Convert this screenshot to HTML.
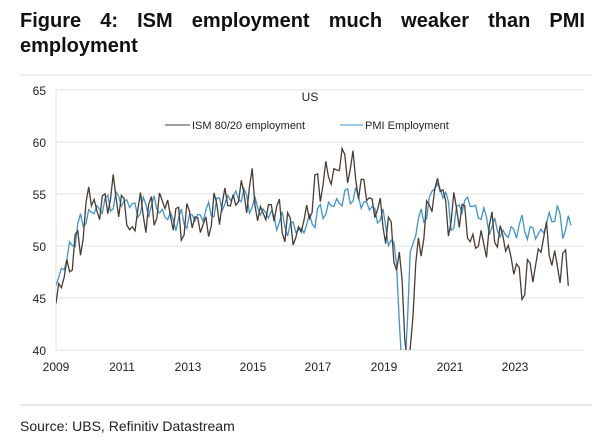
<!DOCTYPE html>
<html><head><meta charset="utf-8"><style>
body{margin:0;width:612px;height:446px;background:#fff;font-family:"Liberation Sans",sans-serif;overflow:hidden}
.t{position:absolute;left:20px;top:9px;width:565px;font-weight:bold;font-size:20px;line-height:25px;color:#111;text-align:justify;text-align-last:left}
</style></head><body>
<div class="t">Figure 4: ISM employment much weaker than PMI employment</div>
<svg width="612" height="446" style="position:absolute;left:0;top:0">
<line x1="20" y1="75" x2="592" y2="75" stroke="#e0e0e0"/>
<g stroke="#e2e2e2" stroke-width="1">
<line x1="56" y1="90" x2="584" y2="90"/><line x1="56" y1="142" x2="584" y2="142"/>
<line x1="56" y1="194" x2="584" y2="194"/><line x1="56" y1="246" x2="584" y2="246"/>
<line x1="56" y1="298" x2="584" y2="298"/><line x1="56" y1="350" x2="584" y2="350"/>
<line x1="56" y1="90" x2="56" y2="350"/>
</g>
<g font-size="12" fill="#222" text-anchor="end">
<text x="46" y="95">65</text><text x="46" y="147">60</text><text x="46" y="199">55</text>
<text x="46" y="251">50</text><text x="46" y="303">45</text><text x="46" y="355">40</text>
</g>
<g font-size="12" fill="#222" text-anchor="middle">
<text x="56" y="371">2009</text><text x="122" y="371">2011</text><text x="188" y="371">2013</text>
<text x="253" y="371">2015</text><text x="318" y="371">2017</text><text x="384" y="371">2019</text>
<text x="450" y="371">2021</text><text x="515" y="371">2023</text>
</g>
<text x="310" y="101" font-size="12" fill="#222" text-anchor="middle">US</text>
<line x1="165" y1="125" x2="190" y2="125" stroke="#4a3c32"/>
<text x="192" y="129" font-size="11" fill="#222">ISM 80/20 employment</text>
<line x1="340" y1="125" x2="363" y2="125" stroke="#3e95cd"/>
<text x="365" y="129" font-size="11" fill="#222">PMI Employment</text>
<defs><clipPath id="c"><rect x="56" y="88" width="530" height="262"/></clipPath></defs>
<g clip-path="url(#c)" fill="none" stroke-width="1.3">
<polyline id="pmi" stroke="#3e95cd"/>
<polyline id="ism" stroke="#4a3c32"/>
</g>
<line x1="20" y1="405" x2="592" y2="405" stroke="#d0d0d0"/>
<text x="20" y="431" font-size="14" fill="#222">Source: UBS, Refinitiv Datastream</text>
</svg>
<script>
function X(y){return 56+(y-2009)*32.7}
function Y(v){return 350-(v-40)*10.4}
function interp(k,t){for(let i=0;i<k.length-1;i++){if(t>=k[i][0]&&t<=k[i+1][0]){let f=(t-k[i][0])/(k[i+1][0]-k[i][0]);return k[i][1]+f*(k[i+1][1]-k[i][1]);}}return k[k.length-1][1];}
function build(k,amp,seed,end){let p=[];for(let t=2009;t<=end;t+=1/12){let n=Math.sin(t*53.1+seed)*amp+Math.sin(t*91.7+seed*2)*amp*0.6;let v=interp(k,t);if(v<=40.5)n=0;p.push(X(t).toFixed(1)+","+Y(v+n).toFixed(1));}return p.join(" ");}
const ism=[[2009,45],[2009.5,49],[2009.9,52],[2010.0,55.5],[2010.3,53],[2010.6,55],[2011,54.5],[2011.3,51],[2011.5,53.5],[2012,53],[2012.2,54.5],[2012.8,52],[2013.2,53],[2013.5,51.5],[2014,54],[2014.5,54.5],[2015,55.5],[2015.3,52.5],[2015.6,54],[2016,52],[2016.4,51],[2016.8,54],[2017,56],[2017.5,57],[2017.8,58.5],[2018.1,57],[2018.5,55],[2018.9,53],[2019.2,51.5],[2019.45,48],[2019.55,49],[2019.7,39],[2019.8,39],[2019.9,44],[2020.1,50],[2020.5,54.5],[2020.7,56.5],[2021,52.5],[2021.4,54],[2021.6,51],[2022,50],[2022.3,51.5],[2022.6,51],[2023,48.5],[2023.2,46],[2023.5,47.5],[2023.7,48.5],[2024,51.5],[2024.3,47],[2024.5,49.5],[2024.7,45.8]];
const pmi=[[2009,46.5],[2009.3,48.5],[2009.7,52],[2010,53],[2010.5,54],[2011,54.5],[2011.5,53.5],[2012,54],[2012.5,52.5],[2013,52.5],[2013.5,53],[2014,54],[2014.6,55],[2015,54],[2015.5,53],[2016,52],[2016.5,51.5],[2017,53],[2017.5,54],[2018,55],[2018.5,54],[2019,52.5],[2019.3,50],[2019.45,48],[2019.55,38],[2019.7,38],[2019.8,48],[2020,52],[2020.3,53],[2020.6,56],[2020.9,55],[2021.1,52],[2021.5,54.5],[2022,53],[2022.3,52],[2022.8,51],[2023.2,52],[2023.7,51],[2024,52],[2024.3,53.5],[2024.5,51.5],[2024.7,52.5],[2024.8,51.5]];
document.getElementById('ism').setAttribute('points',build(ism,1.3,1,2024.72));
document.getElementById('pmi').setAttribute('points',build(pmi,0.7,3,2024.82));
</script>
</body></html>
